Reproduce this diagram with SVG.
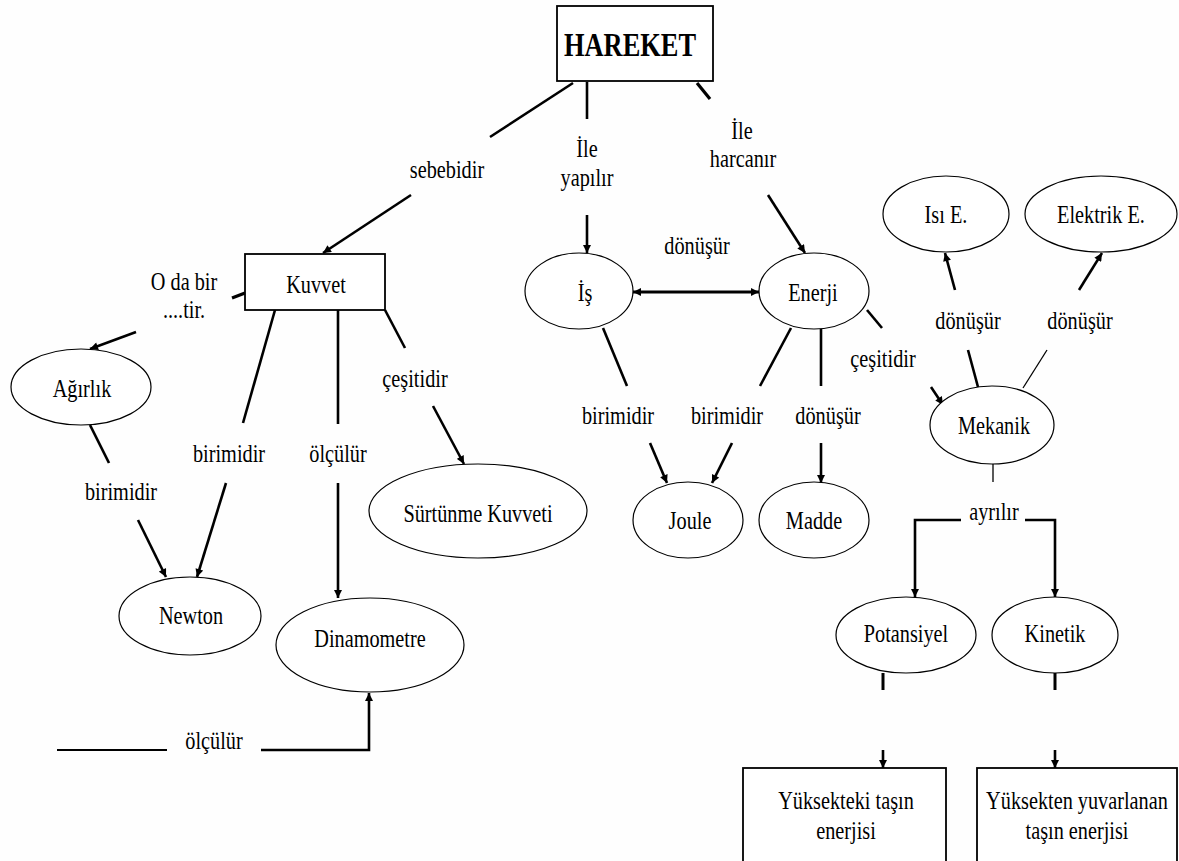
<svg xmlns="http://www.w3.org/2000/svg" width="1179" height="861" viewBox="0 0 1179 861">
<style>
text{font-family:"Liberation Serif","Times New Roman",Tinos,Times,"Nimbus Roman","DejaVu Serif",serif}
.t{font-size:26px;fill:#000;text-anchor:middle}
.b{font-weight:bold;font-size:33px}
.n{fill:#fff;stroke:#000;stroke-width:1.2}
.r{fill:#fff;stroke:#000;stroke-width:1.8}
.c{fill:none;stroke:#000;stroke-width:2.6}
.th{fill:none;stroke:#000;stroke-width:1.3}
.a{marker-end:url(#ah)}
</style>
<defs>
<marker id="ah" viewBox="0 0 10 10" refX="10" refY="5" markerWidth="9" markerHeight="8" markerUnits="userSpaceOnUse" orient="auto-start-reverse">
<path d="M0,0 L10,5 L0,10 z" fill="#000"/>
</marker>
</defs>
<rect width="1179" height="861" fill="#fefefe"/>

<g id="connectors">
<line class="c" x1="573" y1="83" x2="490" y2="137"/>
<line class="c a" x1="411" y1="195" x2="323" y2="253"/>
<line class="c" x1="587" y1="82" x2="587" y2="119"/>
<line class="c a" x1="587" y1="215" x2="587" y2="253"/>
<line class="c" x1="697" y1="83" x2="710" y2="99" style="stroke-width:3.2"/>
<line class="c a" x1="768" y1="195" x2="805" y2="253"/>
<line class="c" x1="633" y1="292" x2="759" y2="292" style="stroke-width:3" marker-start="url(#ah)" marker-end="url(#ah)"/>
<line class="c" x1="232" y1="298" x2="245" y2="293" style="stroke-width:3.2"/>
<line class="c a" x1="136" y1="332" x2="90" y2="349"/>
<line class="c" x1="90" y1="425" x2="109" y2="463"/>
<line class="c a" x1="138" y1="520" x2="166" y2="577"/>
<line class="c" x1="275" y1="310" x2="243" y2="423"/>
<line class="c a" x1="226" y1="483" x2="197" y2="577"/>
<line class="c" x1="338" y1="310" x2="338" y2="424"/>
<line class="c a" x1="338" y1="483" x2="338" y2="598"/>
<line class="c" x1="385" y1="310" x2="405" y2="348"/>
<line class="c a" x1="433" y1="406" x2="464" y2="464"/>
<line class="c" x1="57" y1="750" x2="167" y2="750" style="stroke-width:2"/>
<polyline class="c a" points="261,750 369,750 369,693"/>
<line class="c" x1="603" y1="328" x2="627" y2="386"/>
<line class="c a" x1="650" y1="443" x2="667" y2="483"/>
<line class="c" x1="791" y1="328" x2="760" y2="386"/>
<line class="c a" x1="732" y1="443" x2="712" y2="483"/>
<line class="c" x1="821" y1="329" x2="821" y2="386"/>
<line class="c a" x1="821" y1="443" x2="821" y2="483"/>
<line class="c" x1="867" y1="310" x2="882" y2="328"/>
<line class="c a" x1="931" y1="387" x2="943" y2="405"/>
<line class="c" x1="968" y1="350" x2="978" y2="387"/>
<line class="c a" x1="955" y1="290" x2="945" y2="253"/>
<line class="th" x1="1047" y1="350" x2="1023" y2="388"/>
<line class="c a" x1="1079" y1="290" x2="1102" y2="253"/>
<line class="th" x1="993" y1="464" x2="993" y2="482"/>
<polyline class="c a" points="961,520 915,520 915,597"/>
<polyline class="c a" points="1025,520 1055,520 1055,597"/>
<line class="c" x1="883" y1="673" x2="883" y2="690" style="stroke-width:3"/>
<line class="c" x1="1055" y1="673" x2="1055" y2="690" style="stroke-width:3"/>
<line class="c a" x1="883" y1="750" x2="883" y2="768"/>
<line class="c a" x1="1055" y1="750" x2="1055" y2="768"/>
</g>

<g id="labels">
<text class="t" transform="translate(447 178) scale(.78 1)">sebebidir</text>
<text class="t" transform="translate(587 157) scale(.78 1)">İle</text>
<text class="t" transform="translate(587 186) scale(.78 1)">yapılır</text>
<text class="t" transform="translate(742 139) scale(.78 1)">İle</text>
<text class="t" transform="translate(743 167) scale(.78 1)">harcanır</text>
<text class="t" transform="translate(697 254) scale(.78 1)">dönüşür</text>
<text class="t" transform="translate(184 290) scale(.78 1)">O da bir</text>
<text class="t" transform="translate(184 318) scale(.78 1)">....tir.</text>
<text class="t" transform="translate(121 500) scale(.78 1)">birimidir</text>
<text class="t" transform="translate(229 462) scale(.78 1)">birimidir</text>
<text class="t" transform="translate(338 462) scale(.78 1)">ölçülür</text>
<text class="t" transform="translate(415 387) scale(.78 1)">çeşitidir</text>
<text class="t" transform="translate(214 749) scale(.78 1)">ölçülür</text>
<text class="t" transform="translate(618 424) scale(.78 1)">birimidir</text>
<text class="t" transform="translate(727 424) scale(.78 1)">birimidir</text>
<text class="t" transform="translate(828 424) scale(.78 1)">dönüşür</text>
<text class="t" transform="translate(883 367) scale(.78 1)">çeşitidir</text>
<text class="t" transform="translate(968 329) scale(.78 1)">dönüşür</text>
<text class="t" transform="translate(1080 329) scale(.78 1)">dönüşür</text>
<text class="t" transform="translate(994 520) scale(.78 1)">ayrılır</text>
</g>

<g id="hareket">
<rect class="r" x="557" y="6" width="156" height="75"/>
<text class="t b" transform="translate(630 56) scale(.8 1)">HAREKET</text>
</g>
<g id="kuvvet">
<rect class="r" x="245" y="254" width="140" height="56"/>
<text class="t" transform="translate(316 293) scale(.78 1)">Kuvvet</text>
</g>
<g id="is">
<ellipse class="n" cx="579" cy="291" rx="54" ry="38"/>
<text class="t" transform="translate(585 301) scale(.78 1)">İş</text>
</g>
<g id="enerji">
<ellipse class="n" cx="814" cy="291" rx="55" ry="38"/>
<text class="t" transform="translate(813 301) scale(.78 1)">Enerji</text>
</g>
<g id="isi">
<ellipse class="n" cx="946" cy="214" rx="63" ry="38"/>
<text class="t" transform="translate(946 223) scale(.78 1)">Isı E.</text>
</g>
<g id="elektrik">
<ellipse class="n" cx="1101" cy="214" rx="76" ry="38"/>
<text class="t" transform="translate(1101 223) scale(.78 1)">Elektrik E.</text>
</g>
<g id="agirlik">
<ellipse class="n" cx="81" cy="387" rx="70" ry="38"/>
<text class="t" transform="translate(82 397) scale(.78 1)">Ağırlık</text>
</g>
<g id="surtunme">
<ellipse class="n" cx="478" cy="511" rx="109" ry="47"/>
<text class="t" transform="translate(478 522) scale(.78 1)">Sürtünme Kuvveti</text>
</g>
<g id="newton">
<ellipse class="n" cx="190" cy="616" rx="71" ry="39"/>
<text class="t" transform="translate(191 624) scale(.78 1)">Newton</text>
</g>
<g id="dinamometre">
<ellipse class="n" cx="370" cy="645" rx="94" ry="47"/>
<text class="t" transform="translate(370 647) scale(.78 1)">Dinamometre</text>
</g>
<g id="joule">
<ellipse class="n" cx="688" cy="520" rx="55" ry="38"/>
<text class="t" transform="translate(690 529) scale(.78 1)">Joule</text>
</g>
<g id="madde">
<ellipse class="n" cx="814" cy="520" rx="55" ry="38"/>
<text class="t" transform="translate(814 529) scale(.78 1)">Madde</text>
</g>
<g id="mekanik">
<ellipse class="n" cx="992" cy="425" rx="62" ry="39"/>
<text class="t" transform="translate(994 434) scale(.78 1)">Mekanik</text>
</g>
<g id="potansiyel">
<ellipse class="n" cx="906" cy="635" rx="70" ry="38"/>
<text class="t" transform="translate(906 642) scale(.78 1)">Potansiyel</text>
</g>
<g id="kinetik">
<ellipse class="n" cx="1055" cy="635" rx="63" ry="38"/>
<text class="t" transform="translate(1055 642) scale(.78 1)">Kinetik</text>
</g>
<g id="yuksekteki">
<rect class="r" x="743" y="768" width="203" height="110"/>
<text class="t" transform="translate(846 809) scale(.78 1)">Yüksekteki taşın</text>
<text class="t" transform="translate(846 839) scale(.78 1)">enerjisi</text>
</g>
<g id="yuksekten">
<rect class="r" x="977" y="768" width="200" height="110"/>
<text class="t" transform="translate(1077 809) scale(.78 1)">Yüksekten yuvarlanan</text>
<text class="t" transform="translate(1077 839) scale(.78 1)">taşın enerjisi</text>
</g>
</svg>
